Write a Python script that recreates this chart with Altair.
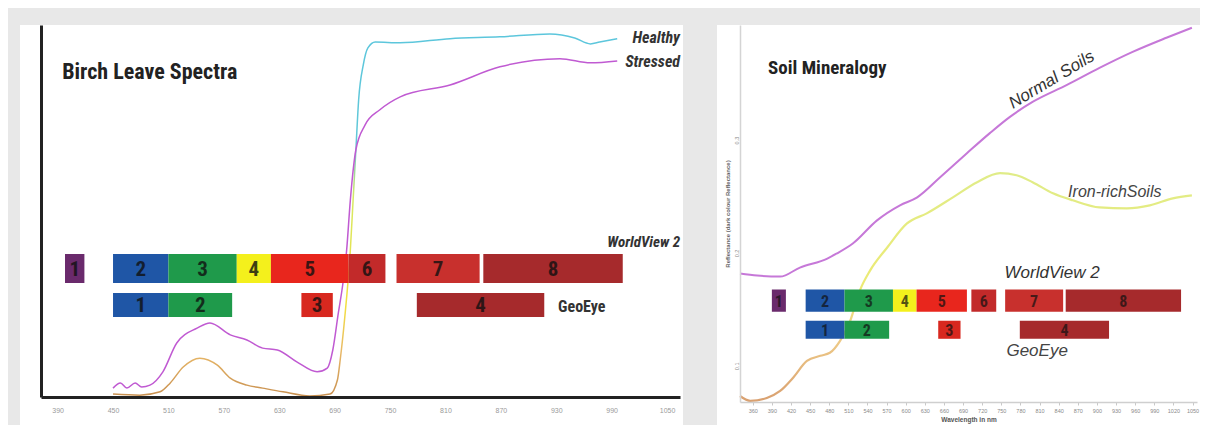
import altair as alt
import pandas as pd

# ---------------- Birch leave spectra (left panel) ----------------
healthy_wl = [450, 479, 501, 512, 526, 544, 563, 577, 595, 612, 634, 663, 685, 693, 696, 701, 707, 710, 713, 716,
              721, 726, 734, 761, 815, 869, 923, 950, 967, 977, 996]
healthy_refl = [0.8, 0.5, 1.4, 3.8, 8.1, 10.5, 8.6, 5.1, 3.2, 2.4, 1.4, 0.3, 0.8, 4.6, 10.0, 21.6, 39.7, 53.2, 66.8, 80.3,
                89.7, 94.3, 95.9, 95.7, 96.8, 97.3, 98.1, 97.0, 95.4, 95.9, 96.8]
stressed_wl = [450, 458, 465, 474, 481, 490, 504, 519, 541, 555, 577, 595, 612, 628, 649, 671, 682, 688, 694, 699,
               703, 707, 713, 723, 739, 761, 815, 869, 934, 967, 996]
stressed_refl = [2.4, 3.8, 2.4, 3.8, 2.7, 3.2, 6.8, 14.6, 18.6, 20.0, 16.8, 15.4, 13.2, 12.7, 9.5, 6.8, 7.8, 12.7, 22.7, 30.8,
                 39.7, 53.2, 66.8, 73.5, 77.6, 81.1, 84.3, 89.2, 91.4, 90.3, 90.8]
left_ticks = [390, 450, 510, 570, 630, 690, 750, 810, 870, 930, 990, 1050]

# ---------------- Soil mineralogy (right panel) ----------------
normal_wl = [340, 367, 403, 434, 477, 492, 517, 555, 591, 618, 654, 696, 732, 763, 799, 853, 904, 956, 1009, 1049]
normal_refl = [0.1818, 0.1800, 0.1791, 0.1871, 0.1951, 0.1996, 0.2084, 0.2289, 0.2422, 0.2493, 0.2671, 0.2884,
               0.3062, 0.3204, 0.3338, 0.3489, 0.3640, 0.3782, 0.3907, 0.3996]
iron_wl = [340, 356, 382, 403, 423, 445, 466, 481, 497, 513, 528, 544, 571, 602, 633, 674, 712, 748, 774, 799,
           831, 862, 904, 947, 983, 1019, 1049]
iron_refl = [0.0733, 0.0690, 0.0716, 0.0778, 0.0893, 0.1044, 0.1089, 0.1116, 0.1222, 0.1400, 0.1667, 0.1844,
             0.2049, 0.2262, 0.2351, 0.2493, 0.2627, 0.2707, 0.2689, 0.2627, 0.2529, 0.2467, 0.2404, 0.2396,
             0.2422, 0.2484, 0.2511]
right_ticks = [360, 390, 420, 450, 480, 510, 540, 570, 600, 630, 660, 690, 720, 750, 780, 810, 840, 870, 900,
               930, 960, 990, 1020, 1050]
right_yticks = [0.1, 0.2, 0.3]

# ---------------- Sensor bands ----------------
wv_labels = ["1", "2", "3", "4", "5", "6", "7", "8"]
wv_start_left = [398, 450, 510, 584, 621, 705, 757, 851]
wv_end_left = [419, 510, 584, 621, 705, 745, 847, 1002]
wv_start_right = [390, 443, 504, 580, 617, 703, 756, 851]
wv_end_right = [412, 504, 580, 617, 696, 742, 847, 1032]
wv_colors = ["#6a2a6c", "#1f56a6", "#1f9a4b", "#f4f01c", "#e8261d", "#c22a2a", "#c8302d", "#a62a2c"]

geo_labels = ["1", "2", "3", "4"]
geo_start_left = [450, 510, 654, 779]
geo_end_left = [510, 579, 688, 917]
geo_start_right = [443, 504, 651, 779]
geo_end_right = [504, 574, 686, 919]
geo_colors = ["#1f56a6", "#1f9a4b", "#d8281f", "#a62a2c"]

FONT = "Liberation Sans Narrow, Roboto Condensed, Liberation Sans, Arial"
FONT2 = "Liberation Sans, Arial"


def bands(labels, starts, ends, colors, y1, y2):
    return pd.DataFrame({"band": labels, "start": starts, "end": ends, "color": colors,
                         "y1": [y1] * len(labels), "y2": [y2] * len(labels)})


def panel(xs, ys, xaxis, yaxis, xtitle, ytitle, lines, bandsets, texts, bg, num_size, num_opacity, w, h):
    def X(f):
        return alt.X(f, scale=xs, axis=xaxis, title=xtitle)

    def Y(f):
        return alt.Y(f, scale=ys, axis=yaxis, title=ytitle)

    layers = []
    # white card behind the panel (decoration)
    layers.append(alt.Chart(pd.DataFrame({"a": [0]})).mark_rect(color="white").encode(
        x=alt.value(bg[0]), x2=alt.value(bg[1]), y=alt.value(bg[2]), y2=alt.value(bg[3])))
    for df, stroke, width in lines:
        layers.append(alt.Chart(df).mark_line(color=stroke, strokeWidth=width, interpolate="monotone").encode(
            x=X("wl:Q"), y=Y("v:Q"), order="idx:Q"))
    for bdf in bandsets:
        layers.append(alt.Chart(bdf).mark_rect().encode(
            x=X("start:Q"), x2="end:Q", y=Y("y1:Q"), y2="y2:Q",
            color=alt.Color("color:N", scale=None)))
        layers.append(alt.Chart(bdf).transform_calculate(
            mid="(datum.start + datum.end) / 2", ym="(datum.y1 + datum.y2) / 2"
        ).mark_text(font=FONT, fontWeight="bold", fontSize=num_size, color="#111", opacity=num_opacity,
                    baseline="middle", dy=1).encode(x=X("mid:Q"), y=Y("ym:Q"), text="band:N"))
    for tdf, props in texts:
        layers.append(alt.Chart(tdf).mark_text(**props).encode(x=X("wl:Q"), y=Y("v:Q"), text="t:N"))
    return alt.layer(*layers).properties(width=w, height=h)


def line_df(wl, v):
    return pd.DataFrame({"wl": wl, "v": v, "idx": list(range(len(wl)))})


# ---------------- left panel ----------------
lx = alt.Scale(domain=[372, 1064], nice=False, zero=False)
ly = alt.Scale(domain=[0, 100.5], nice=False, zero=False)
left_xaxis = alt.Axis(values=left_ticks, format="d", domainColor="#222", domainWidth=3, ticks=False, grid=False,
                      labelFontSize=7, labelColor="#9a9a9a", labelPadding=9, labelFont=FONT2, zindex=1)
left_yaxis = alt.Axis(domainColor="#222", domainWidth=3, ticks=False, labels=False, grid=False, zindex=1)

healthy_grad = alt.LinearGradient(gradient="linear", x1=0, x2=0, y1=0, y2=1, stops=[
    alt.GradientStop(offset=0, color="#5cc6dc"), alt.GradientStop(offset=0.3, color="#60c8d8"),
    alt.GradientStop(offset=0.45, color="#d6e864"), alt.GradientStop(offset=0.75, color="#f2e040"),
    alt.GradientStop(offset=0.88, color="#e8b868"), alt.GradientStop(offset=1, color="#c89050")])

left_lines = [(line_df(healthy_wl, healthy_refl), healthy_grad, 1.5),
              (line_df(stressed_wl, stressed_refl), "#c05ad2", 1.5)]
left_bands = [bands(wv_labels, wv_start_left, wv_end_left, wv_colors, 30.8, 38.6),
              bands(geo_labels, geo_start_left, geo_end_left, geo_colors, 21.6, 28.1)]
left_texts = [
    (pd.DataFrame({"wl": [395], "v": [87.8], "t": ["Birch Leave Spectra"]}),
     dict(font=FONT, fontWeight="bold", fontSize=22, color="#222", align="left", baseline="middle")),
    (pd.DataFrame({"wl": [1064, 1064], "v": [97.0, 90.6], "t": ["Healthy", "Stressed"]}),
     dict(font=FONT, fontWeight="bold", fontStyle="italic", fontSize=16, color="#333", align="right", baseline="middle")),
    (pd.DataFrame({"wl": [1064], "v": [41.9], "t": ["WorldView 2"]}),
     dict(font=FONT, fontWeight="bold", fontStyle="italic", fontSize=15, color="#333", align="right", baseline="middle")),
    (pd.DataFrame({"wl": [932], "v": [24.3], "t": ["GeoEye"]}),
     dict(font=FONT, fontWeight="bold", fontSize=16, color="#333", align="left", baseline="middle")),
]
left = panel(lx, ly, left_xaxis, left_yaxis, None, None, left_lines, left_bands, left_texts,
             bg=[-21, 642, 0, 400], num_size=21, num_opacity=0.8, w=639, h=372)

# ---------------- right panel ----------------
rx = alt.Scale(domain=[340, 1057], nice=False, zero=False)
ry = alt.Scale(domain=[0.068, 0.402], nice=False, zero=False)
right_xaxis = alt.Axis(values=right_ticks, format="d", domainColor="#cfcfcf", domainWidth=1.5, ticks=True,
                       tickColor="#c8c8c8", tickSize=3, grid=False, labelFontSize=5.5, labelColor="#8a8a8a",
                       labelPadding=3, titleFontSize=6.5, titleColor="#555", titlePadding=3,
                       labelFont=FONT2, titleFont=FONT2, zindex=1)
right_yaxis = alt.Axis(values=right_yticks, format=".1f", domainColor="#d4d4d4", domainWidth=1.5, ticks=False,
                       grid=False, labelAngle=-90, labelFontSize=5.5, labelColor="#8a8a8a", labelPadding=4,
                       labelBaseline="middle", labelAlign="center",
                       titleFontSize=6, titleColor="#666", titlePadding=4, labelFont=FONT2, titleFont=FONT2,
                       zindex=1)

iron_grad = alt.LinearGradient(gradient="linear", x1=0, x2=0, y1=0, y2=1, stops=[
    alt.GradientStop(offset=0, color="#e0ec88"), alt.GradientStop(offset=0.5, color="#ecea74"),
    alt.GradientStop(offset=0.7, color="#f0cf8a"), alt.GradientStop(offset=1, color="#d9a070")])

right_lines = [(line_df(normal_wl, normal_refl), "#c678d8", 2.0),
               (line_df(iron_wl, iron_refl), iron_grad, 2.2)]
right_bands = [bands(wv_labels, wv_start_right, wv_end_right, wv_colors, 0.148, 0.1676),
               bands(geo_labels, geo_start_right, geo_end_right, geo_colors, 0.124, 0.140)]
right_texts = [
    (pd.DataFrame({"wl": [384], "v": [0.364], "t": ["Soil Mineralogy"]}),
     dict(font=FONT, fontWeight="bold", fontSize=19, color="#222", align="left", baseline="middle")),
    (pd.DataFrame({"wl": [829], "v": [0.3533], "t": ["Normal Soils"]}),
     dict(font=FONT2, fontStyle="italic", fontSize=17, color="#333", align="center", baseline="middle", angle=329)),
    (pd.DataFrame({"wl": [928], "v": [0.2538], "t": ["Iron-richSoils"]}),
     dict(font=FONT2, fontStyle="italic", fontSize=16, color="#444", align="center", baseline="middle")),
    (pd.DataFrame({"wl": [755], "v": [0.1827], "t": ["WorldView 2"]}),
     dict(font=FONT2, fontStyle="italic", fontSize=17, color="#333", align="left", baseline="middle")),
    (pd.DataFrame({"wl": [758], "v": [0.1133], "t": ["GeoEye"]}),
     dict(font=FONT2, fontStyle="italic", fontSize=17, color="#444", align="left", baseline="middle")),
]
right = panel(rx, ry, right_xaxis, right_yaxis, "Wavelength in nm", "Reflectance (dark colour Reflectance)",
              right_lines, right_bands, right_texts,
              bg=[-23, 460, 0, 400], num_size=16, num_opacity=0.7, w=457, h=377)

chart = alt.hconcat(left, right, spacing=60, bounds="flush").properties(
    padding={"left": 12, "top": 15, "right": 0, "bottom": 0}
).configure(background="#e8e8e8").configure_view(strokeWidth=0)

chart.save("out.html", embed_options={"renderer": "svg", "actions": False})
